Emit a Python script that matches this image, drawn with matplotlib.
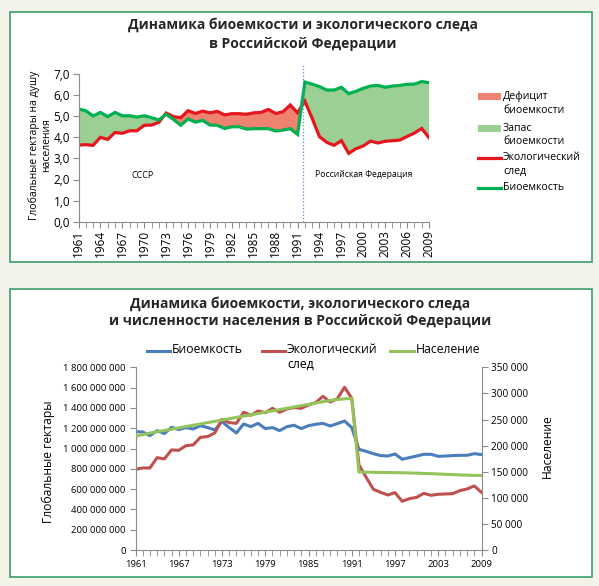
import numpy as np
import matplotlib.pyplot as plt
import matplotlib.ticker as mticker
from matplotlib.patches import Rectangle
from matplotlib.lines import Line2D

plt.rcParams['font.family'] = ['Open Sans', 'DejaVu Sans']

# --- data ---
years = list(range(1961, 2010))

# global hectares per capita
biocap_pc = [5.34, 5.26, 5.01, 5.18, 4.98, 5.18, 5.02, 5.02, 4.96, 5.02,
             4.93, 4.82, 5.09, 4.85, 4.57, 4.87, 4.72, 4.80, 4.58, 4.57,
             4.42, 4.50, 4.50, 4.39, 4.41, 4.41, 4.41, 4.30, 4.34, 4.41,
             4.14, 6.62, 6.52, 6.40, 6.24, 6.24, 6.37, 6.07, 6.18, 6.32,
             6.43, 6.46, 6.37, 6.43, 6.46, 6.51, 6.52, 6.64, 6.59]
footprint_pc = [3.63, 3.65, 3.62, 4.00, 3.90, 4.23, 4.19, 4.31, 4.31, 4.57,
                4.58, 4.71, 5.15, 4.98, 4.93, 5.26, 5.13, 5.24, 5.16, 5.23,
                5.06, 5.12, 5.12, 5.09, 5.16, 5.18, 5.32, 5.13, 5.21, 5.53,
                5.16, 5.71, 4.90, 4.03, 3.76, 3.62, 3.84, 3.24, 3.46, 3.59,
                3.82, 3.73, 3.81, 3.84, 3.87, 4.04, 4.20, 4.42, 3.98]

# totals, billions of global hectares
biocap_total = [1.166, 1.163, 1.127, 1.176, 1.147, 1.209, 1.186, 1.206, 1.192, 1.225,
                1.206, 1.183, 1.265, 1.206, 1.153, 1.242, 1.215, 1.248, 1.196, 1.206,
                1.176, 1.215, 1.229, 1.196, 1.225, 1.238, 1.248, 1.222, 1.245, 1.271,
                1.206, 0.992, 0.972, 0.949, 0.930, 0.926, 0.946, 0.894, 0.910, 0.926,
                0.943, 0.943, 0.923, 0.926, 0.930, 0.933, 0.933, 0.949, 0.940]
footprint_total = [0.795, 0.808, 0.808, 0.910, 0.897, 0.986, 0.982, 1.028, 1.035, 1.110,
                   1.117, 1.153, 1.288, 1.255, 1.248, 1.357, 1.327, 1.370, 1.353, 1.396,
                   1.357, 1.390, 1.403, 1.396, 1.429, 1.452, 1.514, 1.458, 1.491, 1.603,
                   1.495, 0.838, 0.716, 0.598, 0.568, 0.542, 0.565, 0.480, 0.506, 0.519,
                   0.558, 0.539, 0.549, 0.552, 0.555, 0.585, 0.601, 0.631, 0.568]
# population, thousands
population = [218000, 221000, 224000, 226500, 229000, 231500, 234000, 236500, 239000, 241500,
              244000, 246500, 249000, 251500, 254000, 256500, 259000, 261500, 264000, 266500,
              269000, 271500, 274000, 276500, 279000, 281500, 284000, 286500, 288500, 289500,
              290500, 149500, 149000, 148800, 148600, 148400, 148200, 148000, 147600, 147200,
              146700, 146200, 145600, 145000, 144400, 143800, 143400, 143000, 142800]

yrs = np.array(years)
bio = np.array(biocap_pc)
foot = np.array(footprint_pc)

W, H = 599, 586
def fx(x):
    return x / W
def fy(y):
    return 1 - y / H

bg = '#f3f3ea'
frame_col = '#3a9e6a'
axis_col = '#8c8c8c'
red = '#e5161d'
green = '#00b050'
deficit_col = '#f08272'
reserve_col = '#9ccf94'

fig = plt.figure(figsize=(W / 100, H / 100), dpi=100, facecolor=bg)

# white frames around the two charts
for (x0, y0, x1, y1) in [(10, 12, 592, 262), (10, 289, 592, 577)]:
    fig.patches.append(Rectangle((fx(x0), fy(y1)), fx(x1) - fx(x0), fy(y0) - fy(y1),
                                 transform=fig.transFigure, facecolor='white',
                                 edgecolor=frame_col, linewidth=1.2, zorder=-1))

# ---------- top chart ----------
ax1 = fig.add_axes([fx(78.5), fy(221.7), fx(429) - fx(78.5), fy(74) - fy(221.7)])
ax1.set_facecolor('none')
ax1.fill_between(yrs, foot, bio, where=foot >= bio, interpolate=True,
                 color=deficit_col, linewidth=0)
ax1.fill_between(yrs, foot, bio, where=bio >= foot, interpolate=True,
                 color=reserve_col, linewidth=0)
ax1.plot(yrs, foot, color=red, linewidth=2.3, solid_joinstyle='miter')
ax1.plot(yrs, bio, color=green, linewidth=2.3, solid_joinstyle='miter')
ax1.plot([1991.7, 1991.7], [0, 7.45], color='#5b8bc9', linestyle=':', linewidth=0.9,
         clip_on=False)

ax1.set_xlim(1961, 2009)
ax1.set_ylim(0, 7)
ax1.set_yticks(np.arange(0, 7.01, 1))
ax1.yaxis.set_major_formatter(mticker.FuncFormatter(lambda v, p: f'{v:.1f}'.replace('.', ',')))
ax1.set_xticks(years[::3])
ax1.set_xticks(years, minor=True)
ax1.tick_params(axis='x', which='both', direction='out', length=4, color=axis_col,
                labelrotation=90, labelsize=8.5, pad=2)
ax1.tick_params(axis='y', direction='out', length=4, color=axis_col, labelsize=8.5, pad=2)
for s in ['top', 'right']:
    ax1.spines[s].set_visible(False)
for s in ['left', 'bottom']:
    ax1.spines[s].set_color(axis_col)

ax1.text(1969.8, 2.2, 'СССР', fontsize=6.5, ha='center', va='center')
ax1.text(2000.0, 2.25, 'Российская Федерация', fontsize=6.2, ha='center', va='center')

fig.text(fx(303), fy(25), 'Динамика биоемкости и экологического следа',
         fontsize=10, fontweight='bold', ha='center', va='center', color='#262626')
fig.text(fx(303), fy(44), 'в Российской Федерации',
         fontsize=10, fontweight='bold', ha='center', va='center', color='#262626')
fig.text(fx(40), fy(145), 'Глобальные гектары на душу\nнаселения', rotation=90,
         fontsize=7.5, ha='center', va='center', multialignment='center', linespacing=1.15)

# legend (top chart), handle aligned with the first line of each label
top_leg = [('patch', deficit_col, 'Дефицит\nбиоемкости', 97),
           ('patch', reserve_col, 'Запас\nбиоемкости', 128),
           ('line', red, 'Экологический\nслед', 158),
           ('line', green, 'Биоемкость', 188)]
for kind, col, lab, yy in top_leg:
    if kind == 'patch':
        fig.patches.append(Rectangle((fx(478), fy(yy + 3.5)), fx(501) - fx(478), 7 / H,
                                     transform=fig.transFigure, facecolor=col, linewidth=0))
    else:
        fig.lines.append(Line2D([fx(478), fx(501)], [fy(yy), fy(yy)], transform=fig.transFigure,
                                color=col, linewidth=2.3))
    fig.text(fx(503), fy(yy - 5.5), lab, fontsize=7.6, ha='left', va='top', linespacing=1.3)

# ---------- bottom chart ----------
ax2 = fig.add_axes([fx(135.5), fy(550), fx(481.5) - fx(135.5), fy(367.3) - fy(550)])
ax2.set_facecolor('none')
ax2.plot(yrs, biocap_total, color='#4a7ebb', linewidth=2.2)
ax2.plot(yrs, footprint_total, color='#c0504d', linewidth=2.2)
ax2.set_xlim(1961, 2009)
ax2.set_ylim(0, 1.8)
ax2.set_yticks(np.arange(0, 1.81, 0.2))
ax2.yaxis.set_major_formatter(mticker.FuncFormatter(
    lambda v, p: f'{v * 1e9:,.0f}'.replace(',', ' ')))
ax2.set_xticks(years[::6])
ax2.set_xticks(years, minor=True)
ax2.tick_params(axis='x', which='both', direction='out', length=4, color=axis_col,
                labelsize=6.8, pad=3)
ax2.tick_params(axis='y', direction='out', length=4, color=axis_col, labelsize=6.8, pad=3)
for s in ['top', 'right']:
    ax2.spines[s].set_visible(False)
for s in ['left', 'bottom']:
    ax2.spines[s].set_color(axis_col)

ax3 = ax2.twinx()
ax3.plot(yrs, population, color='#93c35a', linewidth=2.2)
ax3.set_ylim(0, 350000)
ax3.set_yticks(np.arange(0, 350001, 50000))
ax3.yaxis.set_major_formatter(mticker.FuncFormatter(lambda v, p: f'{v:,.0f}'.replace(',', ' ')))
ax3.tick_params(axis='y', direction='out', length=4, color=axis_col, labelsize=7.2, pad=3)
for s in ['top', 'left', 'bottom']:
    ax3.spines[s].set_visible(False)
ax3.spines['right'].set_color(axis_col)

fig.text(fx(300), fy(304), 'Динамика биоемкости, экологического следа',
         fontsize=10, fontweight='bold', ha='center', va='center', color='#262626')
fig.text(fx(300), fy(321), 'и численности населения в Российской Федерации',
         fontsize=10, fontweight='bold', ha='center', va='center', color='#262626')
fig.text(fx(48), fy(462), 'Глобальные гектары', rotation=90, fontsize=8.7,
         ha='center', va='center')
fig.text(fx(547), fy(446), 'Население', rotation=90, fontsize=8.7,
         ha='center', va='center')

bottom_leg = [('#4a7ebb', 'Биоемкость', 147, 170, 172),
              ('#c0504d', 'Экологический\nслед', 262, 285, 287),
              ('#93c35a', 'Население', 390, 414, 416)]
for col, lab, x0, x1, xt in bottom_leg:
    fig.lines.append(Line2D([fx(x0), fx(x1)], [fy(351), fy(351)], transform=fig.transFigure,
                            color=col, linewidth=2.2))
    fig.text(fx(xt), fy(343), lab, fontsize=8.8, ha='left', va='top', linespacing=1.2)

fig.savefig('out.png', dpi=100, facecolor=bg)
